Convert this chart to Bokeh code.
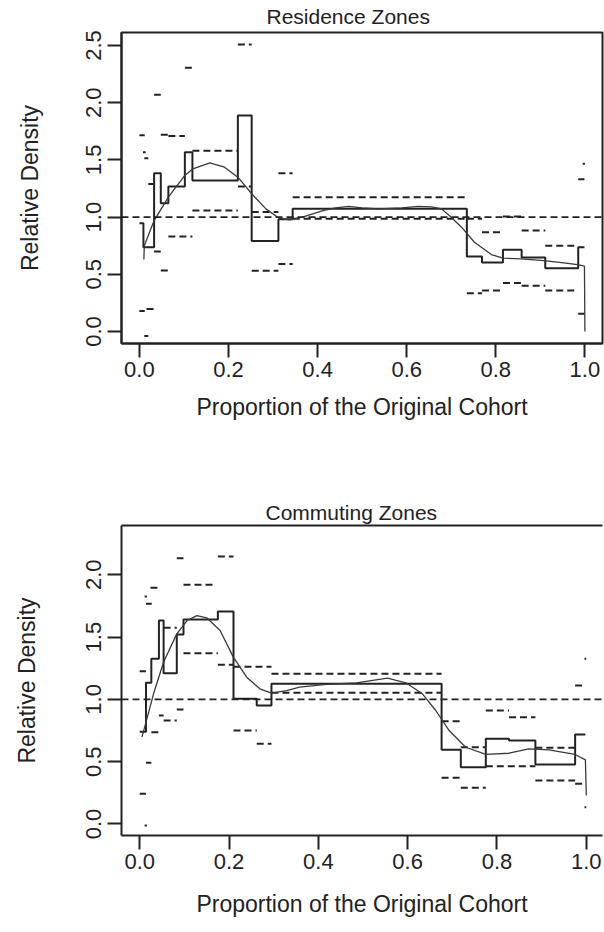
from bokeh.plotting import figure
from bokeh.models import Range1d, FixedTicker, PrintfTickFormatter, Span, LinearAxis
from bokeh.layouts import column
from bokeh.embed import file_html
from bokeh.resources import INLINE

FONT = "Liberation Sans"
INK = "#222222"

# ---------------- Residence Zones ----------------
res_edges = [0.0, 0.009, 0.033, 0.048, 0.065, 0.102, 0.119, 0.221, 0.252, 0.312,
             0.344, 0.735, 0.769, 0.816, 0.858, 0.911, 0.985, 0.999]
res_heights = [0.947, 0.737, 1.384, 1.122, 1.267, 1.567, 1.320, 1.888, 0.792,
               0.982, 1.072, 0.656, 0.603, 0.714, 0.647, 0.553, 0.737]
res_ci_x0 = [0.0, 0.008, 0.011, 0.020, 0.033, 0.048, 0.065, 0.102, 0.119, 0.221,
             0.252, 0.312, 0.344, 0.735, 0.769, 0.816, 0.858, 0.911, 0.985, 0.995,
             0.0, 0.016, 0.011, 0.033, 0.048, 0.065, 0.119, 0.221, 0.252, 0.312,
             0.344, 0.735, 0.769, 0.816, 0.858, 0.911, 0.985]
res_ci_x1 = [0.012, 0.014, 0.020, 0.032, 0.048, 0.065, 0.102, 0.119, 0.221, 0.252,
             0.312, 0.344, 0.735, 0.769, 0.816, 0.858, 0.911, 0.985, 0.999, 1.0,
             0.012, 0.033, 0.020, 0.048, 0.065, 0.119, 0.221, 0.252, 0.312, 0.344,
             0.735, 0.769, 0.816, 0.858, 0.911, 0.985, 0.999]
res_ci_y = [1.716, 1.567, 1.515, 1.29, 2.07, 1.72, 1.71, 2.305, 1.58, 2.51,
            1.045, 1.384, 1.174, 0.985, 0.868, 1.005, 0.883, 0.749, 1.331, 1.466,
            0.18, 0.196, -0.04, 0.70, 0.533, 0.83, 1.058, 1.267, 0.53, 0.59,
            0.985, 0.335, 0.358, 0.425, 0.40, 0.358, 0.155]
res_curve_x = [0.010, 0.011, 0.033, 0.065, 0.102, 0.120, 0.158, 0.191, 0.221, 0.252,
               0.284, 0.312, 0.336, 0.366, 0.414, 0.440, 0.470, 0.500, 0.537, 0.589,
               0.626, 0.656, 0.678, 0.700, 0.723, 0.752, 0.790, 0.816, 0.857, 0.908,
               0.953, 0.983, 0.999, 1.0]
res_curve_y = [0.63, 0.75, 0.97, 1.174, 1.364, 1.422, 1.475, 1.436, 1.349, 1.204,
               1.072, 0.994, 0.975, 0.999, 1.058, 1.081, 1.093, 1.081, 1.072, 1.081,
               1.093, 1.09, 1.072, 0.999, 0.912, 0.78, 0.673, 0.641, 0.635, 0.62,
               0.60, 0.585, 0.571, 0.0]

# ---------------- Commuting Zones ----------------
com_edges = [0.0, 0.014, 0.026, 0.043, 0.0535, 0.083, 0.098, 0.175, 0.21, 0.262,
             0.295, 0.676, 0.719, 0.775, 0.827, 0.886, 0.975, 0.998]
com_heights = [0.74, 1.133, 1.326, 1.633, 1.210, 1.521, 1.641, 1.705, 1.005, 0.951,
               1.125, 0.595, 0.456, 0.684, 0.670, 0.478, 0.718]
com_ci_x0 = [0.0, 0.011, 0.014, 0.024, 0.0535, 0.083, 0.098, 0.175, 0.21, 0.295,
             0.676, 0.719, 0.775, 0.827, 0.886, 0.975, 0.996,
             0.0, 0.014, 0.011, 0.026, 0.043, 0.0535, 0.083, 0.098, 0.175, 0.21,
             0.262, 0.295, 0.676, 0.719, 0.775, 0.886, 0.975, 0.996]
com_ci_x1 = [0.014, 0.016, 0.027, 0.040, 0.083, 0.098, 0.17, 0.21, 0.295, 0.676,
             0.719, 0.775, 0.827, 0.886, 0.975, 0.998, 1.0,
             0.014, 0.026, 0.016, 0.043, 0.0535, 0.083, 0.098, 0.175, 0.21, 0.262,
             0.295, 0.676, 0.719, 0.775, 0.886, 0.975, 0.998, 1.0]
com_ci_y = [1.226, 1.826, 1.767, 1.896, 1.575, 2.132, 1.92, 2.147, 1.262, 1.205,
            0.825, 0.616, 0.911, 0.857, 0.611, 1.112, 1.326,
            0.242, 0.491, -0.012, 0.737, 0.871, 0.831, 0.919, 1.371, 1.278, 0.75,
            0.644, 1.053, 0.371, 0.29, 0.464, 0.349, 0.323, 0.135]
com_curve_x = [0.005, 0.031, 0.0535, 0.083, 0.106, 0.128, 0.150, 0.180, 0.2096, 0.2395,
               0.269, 0.295, 0.329, 0.358, 0.418, 0.485, 0.555, 0.596, 0.633, 0.663,
               0.693, 0.730, 0.775, 0.827, 0.871, 0.916, 0.975, 0.998, 1.0]
com_curve_y = [0.697, 1.045, 1.30, 1.526, 1.633, 1.673, 1.655, 1.553, 1.339, 1.178,
               1.085, 1.050, 1.071, 1.098, 1.12, 1.133, 1.17, 1.133, 1.045, 0.911,
               0.750, 0.616, 0.558, 0.568, 0.603, 0.595, 0.558, 0.515, 0.229]

x_ticks = [0.0, 0.2, 0.4, 0.6, 0.8, 1.0]
res_y_ticks = [0.0, 0.5, 1.0, 1.5, 2.0, 2.5]
com_y_ticks = [0.0, 0.5, 1.0, 1.5, 2.0]
reference_level = 1.0
x_title = "Proportion of the Original Cohort"
y_title = "Relative Density"


def style_axis(ax, ticks, standoff, label_standoff, label):
    ax.ticker = FixedTicker(ticks=ticks)
    ax.formatter = PrintfTickFormatter(format="%.1f")
    ax.major_tick_out = 14
    ax.major_tick_in = 0
    ax.minor_tick_line_color = None
    ax.major_tick_line_color = INK
    ax.major_tick_line_width = 2
    ax.axis_line_color = INK
    ax.axis_line_width = 2
    ax.major_label_text_font = FONT
    ax.major_label_text_font_size = "22px"
    ax.major_label_text_color = INK
    ax.major_label_standoff = standoff
    ax.axis_label = label
    ax.axis_label_text_font = FONT
    ax.axis_label_text_font_size = "23px"
    ax.axis_label_text_font_style = "normal"
    ax.axis_label_text_color = INK
    ax.axis_label_standoff = label_standoff


def panel(title, edges, heights, cx0, cx1, cy, curx, cury, yticks, *, height,
          mb_left, mb_right, mb_top, mb_bottom, xr, yr, title_off, title_standoff,
          title_valign, x_als, y_als, box=True):
    p = figure(width=604, height=height, x_range=Range1d(*xr), y_range=Range1d(*yr),
               output_backend="svg", toolbar_location=None,
               min_border_left=mb_left, min_border_right=mb_right,
               min_border_top=mb_top, min_border_bottom=mb_bottom)
    p.background_fill_color = "white"
    p.border_fill_color = "white"
    p.grid.visible = False
    xax = p.below[0]
    yax = p.left[0]
    style_axis(xax, x_ticks, 4, x_als, x_title)
    style_axis(yax, yticks, 6, y_als, y_title)
    yax.major_label_orientation = "vertical"

    p.title.text = title
    p.title.text_font = FONT
    p.title.text_font_size = "21px"
    p.title.text_font_style = "normal"
    p.title.text_color = INK
    p.title.align = "left"
    p.title.vertical_align = title_valign
    p.title.offset = title_off
    p.title.standoff = title_standoff

    if box:
        p.outline_line_color = INK
        p.outline_line_width = 2
    else:
        p.outline_line_color = None
        top = LinearAxis(ticker=FixedTicker(ticks=[]))
        top.axis_line_color = INK
        top.axis_line_width = 2
        top.major_tick_out = 0
        top.major_tick_in = 0
        top.minor_tick_line_color = None
        top.major_label_text_font_size = "0px"
        p.add_layout(top, "above")

    p.add_layout(Span(location=reference_level, dimension="width", line_color=INK,
                      line_width=1.8, line_dash="7 4"))
    p.segment(x0=cx0, y0=cy, x1=cx1, y1=cy, line_color=INK, line_width=2,
              line_dash="7 4")
    p.step(x=edges, y=heights + [heights[-1]], mode="after", line_color=INK,
           line_width=2)
    p.line(curx, cury, line_color="#3a3a3a", line_width=1.3)
    return p


p1 = panel("Residence Zones", res_edges, res_heights, res_ci_x0, res_ci_x1, res_ci_y,
           res_curve_x, res_curve_y, res_y_ticks, height=440, mb_left=118, mb_right=2,
           mb_top=32, mb_bottom=97, xr=(-0.0402, 1.0395), yr=(-0.105, 2.614),
           title_off=145, title_standoff=6, title_valign="top", x_als=14, y_als=41)
p2 = panel("Commuting Zones", com_edges, com_heights, com_ci_x0, com_ci_x1, com_ci_y,
           com_curve_x, com_curve_y, com_y_ticks, height=492, mb_left=121, mb_right=0,
           mb_top=85, mb_bottom=97, xr=(-0.0408, 1.0363), yr=(-0.0923, 2.3957),
           title_off=144, title_standoff=4, title_valign="bottom", x_als=19, y_als=44,
           box=False)

layout = column(p1, p2)
open("out.html", "w").write(file_html(layout, INLINE))
